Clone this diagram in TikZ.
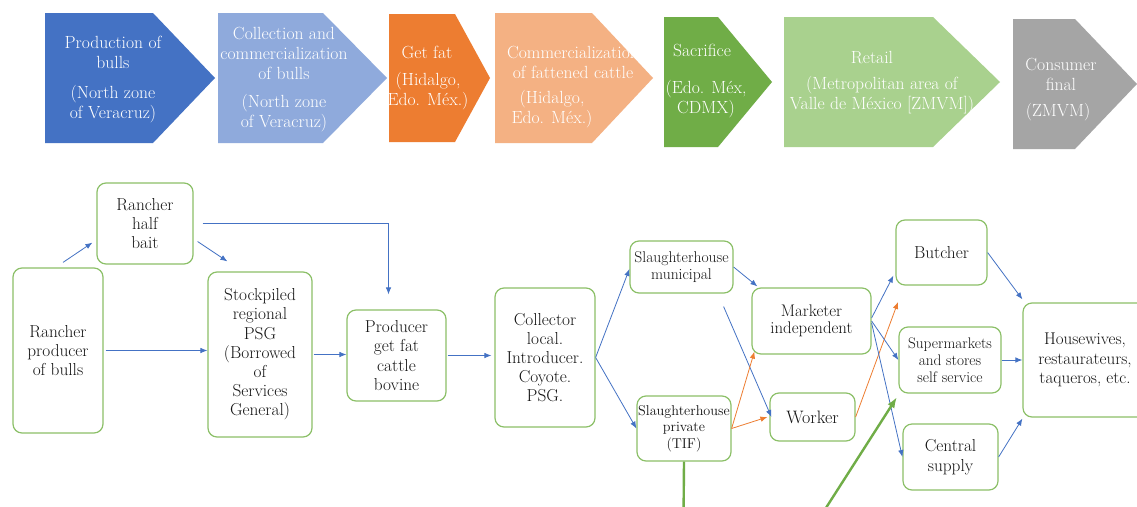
\documentclass[tikz,border=0pt]{standalone}
\usepackage{tikz}
\usetikzlibrary{arrows.meta}
\definecolor{bluedark}{HTML}{4472C4}
\definecolor{bluelight}{HTML}{8FAADC}
\definecolor{orangedark}{HTML}{ED7D31}
\definecolor{salmon}{HTML}{F4B183}
\definecolor{greendark}{HTML}{70AD47}
\definecolor{greenlight}{HTML}{A9D18E}
\definecolor{greyfill}{HTML}{A5A5A5}
\definecolor{boxline}{HTML}{8CC068}
\definecolor{txt}{HTML}{141414}

\begin{document}
\begin{tikzpicture}[x=1pt,y=-1pt,
  stage/.style={text=white,align=center,inner sep=0pt,font=\fontsize{17.6}{20}\selectfont},
  box/.style={draw=boxline,line width=1.2pt,rounded corners=9pt,align=center,text=txt,inner sep=0pt,font=\fontsize{17.3}{19.2}\selectfont},
  flow/.style={draw=bluedark,line width=0.8pt,-{Latex[length=7pt,width=5.5pt]}},
  flowor/.style={flow,draw=orangedark},
  feed/.style={draw=greendark,line width=2.4pt}]
\useasboundingbox (0,0) rectangle (1137,506);
\clip (0,0) rectangle (1137,506);
\fill[white] (0,0) rectangle (1137,506);
\fill[bluedark] (45,13) -- (153,13) -- (215,78) -- (153,143) -- (45,143) -- cycle;
\fill[bluelight] (218,13) -- (323,13) -- (387,78) -- (323,143) -- (218,143) -- cycle;
\fill[orangedark] (389,14) -- (455,14) -- (490,78) -- (455,142) -- (389,142) -- cycle;
\fill[salmon] (495,13) -- (592,13) -- (653,78) -- (592,143) -- (495,143) -- cycle;
\fill[greendark] (664,17) -- (718,17) -- (772,82) -- (718,147) -- (664,147) -- cycle;
\fill[greenlight] (784,17) -- (933,17) -- (1000,82) -- (933,147) -- (784,147) -- cycle;
\fill[greyfill] (1013,19) -- (1075,19) -- (1137,84) -- (1075,149) -- (1013,149) -- cycle;
\node[stage] (prodT) at (113,52) {Production of\\bulls};
\node[stage] (prodP) at (113,104) {(North zone\\of Veracruz)};
\node[stage] (collT) at (284,53) {Collection and\\commercialization\\of bulls};
\node[stage] (collP) at (284,113.5) {(North zone\\of Veracruz)};
\node[stage] (fatT) at (427,52) {Get fat};
\node[stage] (fatP) at (428,91) {(Hidalgo,\\Edo. Méx.)};
\node[stage] (commT) at (573,62.5) {Commercialization\\of fattened cattle};
\node[stage] (commP) at (552,109) {(Hidalgo,\\Edo. Méx.)};
\node[stage] (sacT) at (702,50) {Sacrifice};
\node[stage] (sacP) at (706,99) {(Edo. Méx,\\CDMX)};
\node[stage] (retT) at (872,58) {Retail};
\node[stage] (retP) at (882,95) {(Metropolitan area of\\Valle de México [ZMVM])};
\node[stage] (consT) at (1061,74) {Consumer\\final};
\node[stage] (consP) at (1058,112) {(ZMVM)};
\node[box,minimum width=96pt,minimum height=81pt] (half) at (145,223.5) {Rancher\\half\\bait};
\node[box,minimum width=90pt,minimum height=165pt] (rancher) at (58,350.5) {Rancher\\producer\\of bulls};
\node[box,minimum width=104pt,minimum height=165pt] (stock) at (260,354.5) {Stockpiled\\regional\\PSG\\(Borrowed\\of\\Services\\General)};
\node[box,minimum width=99pt,minimum height=91pt] (fatten) at (396.5,355.5) {Producer\\get fat\\cattle\\bovine};
\node[box,minimum width=100pt,minimum height=139pt] (collector) at (545,357.5) {Collector\\local.\\Introducer.\\Coyote.\\PSG.};
\node[box,minimum width=103pt,minimum height=52pt,font=\fontsize{15.6}{17.3}\selectfont] (munic) at (681.5,267) {Slaughterhouse\\municipal};
\node[box,minimum width=94pt,minimum height=65pt,font=\fontsize{14.2}{16.7}\selectfont] (private) at (684,428.5) {Slaughterhouse\\private\\(TIF)};
\node[box,minimum width=119pt,minimum height=66pt,font=\fontsize{16.8}{17.5}\selectfont] (marketer) at (811.5,321) {Marketer\\independent};
\node[box,minimum width=85pt,minimum height=48pt,font=\fontsize{18}{19}\selectfont] (worker) at (812.5,417) {Worker};
\node[box,minimum width=91pt,minimum height=65pt] (butcher) at (941.5,252.5) {Butcher};
\node[box,minimum width=102pt,minimum height=66pt,font=\fontsize{15.3}{17}\selectfont] (super) at (950,360) {Supermarkets\\and stores\\self service};
\node[box,minimum width=95pt,minimum height=66pt,font=\fontsize{17.3}{20}\selectfont] (central) at (950.5,457) {Central\\supply};
\node[box,minimum width=124pt,minimum height=114pt,font=\fontsize{17}{19.5}\selectfont] (house) at (1085,360) {Housewives,\\restaurateurs,\\taqueros, etc.};
\coordinate (o1) at (898,302);
\coordinate (g1) at (683.5,520);
\coordinate (g2) at (815,525);
\coordinate (g3) at (897,397);
\draw[flow] ([shift={(5,-5)}]rancher.north) -- ([shift={(-4,-22)}]half.south west);
\draw[flow] ([shift={(4,18)}]half.east) -- ([shift={(20,-10)}]stock.north west);
\draw[flow] ([xshift=9pt]half.east) -| ([shift={(-8,-15)}]fatten.north);
\draw[flow] ([xshift=2pt]rancher.east) -- (stock.west |- rancher.east);
\draw[flow] ([xshift=1pt]stock.east) -- (stock.east -| fatten.west);
\draw[flow] ([xshift=1pt]fatten.east) -- ([xshift=-3pt]fatten.east -| collector.west);
\draw[flow] (collector.east) -- ([yshift=-2pt]munic.west);
\draw[flow] (collector.east) -- (private.west);
\draw[flow] (munic.east) -- ([shift={(6,-1)}]marketer.north west);
\draw[flow] ([shift={(-10,13)}]munic.south east) -- ([xshift=2pt]worker.west);
\draw[flowor] (private.east) -- ([shift={(3,-3)}]marketer.south west);
\draw[flowor] (private.east) -- ([xshift=-2pt]worker.west);
\draw[flowor] (worker.east) -- (o1);
\draw[flow] ([yshift=3pt]marketer.east) -- ([shift={(-2,-10)}]butcher.south west);
\draw[flow] (marketer.east) -- (super.west);
\draw[flow] ([yshift=-2pt]marketer.east) -- (central.west);
\draw[flow] (butcher.east) -- ([yshift=3pt]house.north west);
\draw[flow] (super.east) -- (house.west |- super.east);
\draw[flow] (central.east) -- ([yshift=-1pt]house.south west);
\draw[feed] (private.south) -- (g1);
\draw[feed,-{Latex[length=11pt,width=8pt]}] (g2) -- (g3);
\end{tikzpicture}
\end{document}
